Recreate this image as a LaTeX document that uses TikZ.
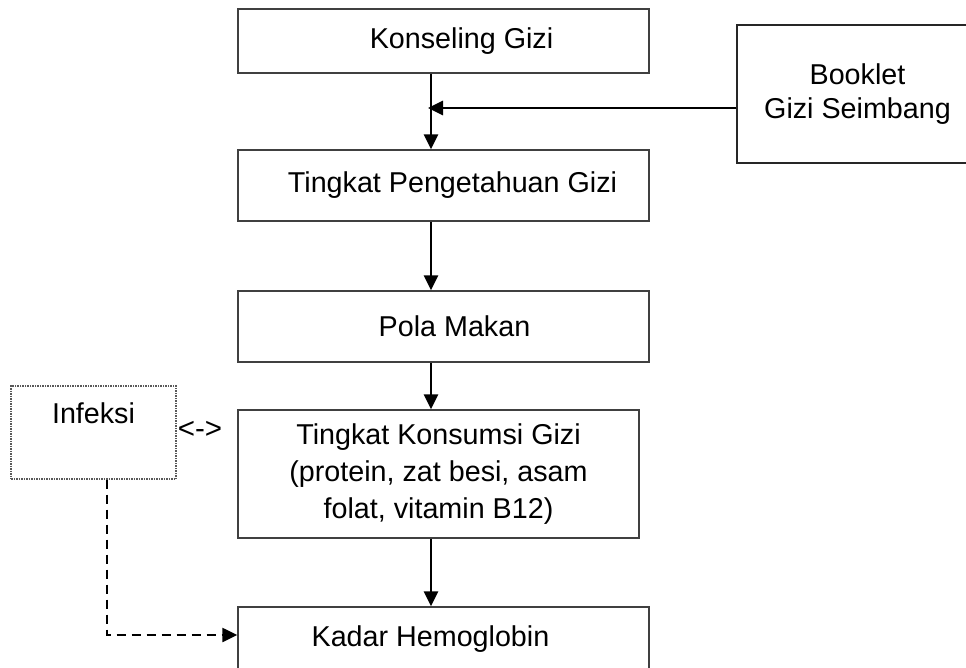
\documentclass[tikz,border=0pt]{standalone}
\usepackage{fontspec}
\setmainfont{Liberation Sans}
\usetikzlibrary{arrows.meta}

\begin{document}
\begin{tikzpicture}[
				x=1pt, y=-1pt,
				kotak/.style={draw=black!75, line width=1.4pt, inner sep=0pt,
					minimum width=411pt, align=center,
					font=\fontsize{28.7}{37}\selectfont},
				panah/.style={->, draw, line width=2.8pt},
				putus/.style={->, draw, line width=2.4pt, dash pattern=on 9pt off 6pt},
				>={Triangle[length=15pt,width=14pt]}]
				
				\useasboundingbox (0,0) rectangle (966,668);
				
				% Boxes
				\node[kotak, minimum height=64pt] (konseling) at (443.5,41) {\hspace*{36pt}Konseling Gizi};
				\node[kotak, minimum height=71pt] (pengetahuan) at (443.5,185.5) {\hspace*{18pt}Tingkat Pengetahuan Gizi};
				\node[kotak, minimum height=71pt] (pola) at (443.5,326.5) {\hspace*{22pt}Pola Makan};
				\node[kotak, minimum width=401pt, minimum height=128pt] (konsumsi) at (438.5,474)
					{Tingkat Konsumsi Gizi\\(protein, zat besi, asam\\folat, vitamin B12)};
				\node[kotak, text height=39pt, text depth=44pt] (kadar) at (443.5,648.5) {Kadar Hemoglobin\hspace*{26pt}};
				\node[kotak, draw=black!85, line width=1.2pt, minimum width=241pt, minimum height=138pt,
					font=\fontsize{28.7}{34}\selectfont] (booklet) at (857.5,94) {Booklet\\Gizi Seimbang};
				\node[kotak, draw=black!65, line width=1.1pt, dash pattern=on 1.5pt off 1pt,
					minimum width=165pt, text height=37pt, text depth=56pt] (infeksi) at (93.5,432.5) {Infeksi};
				\node[font=\fontsize{29.5}{37}\selectfont, inner sep=0pt, anchor=base] (dua) at (200,438) {<->};
				
				% Helper points
				\coordinate (jalur) at (431,0);
				\coordinate (temu) at (428,108);
				\coordinate (belok) at (107,635);
				
				% Arrows
				\draw[panah] (konseling.south -| jalur) -- (pengetahuan.north -| jalur);
				\draw[panah] (booklet.west |- temu) -- (temu);
				\draw[panah] (pengetahuan.south -| jalur) -- (pola.north -| jalur);
				\draw[panah] (pola.south -| jalur) -- (konsumsi.north -| jalur);
				\draw[panah] (konsumsi.south -| jalur) -- (kadar.north -| jalur);
				\draw[putus] (infeksi.south -| belok) -- (belok) -- (kadar.west |- belok);
			\end{tikzpicture}
\end{document}
